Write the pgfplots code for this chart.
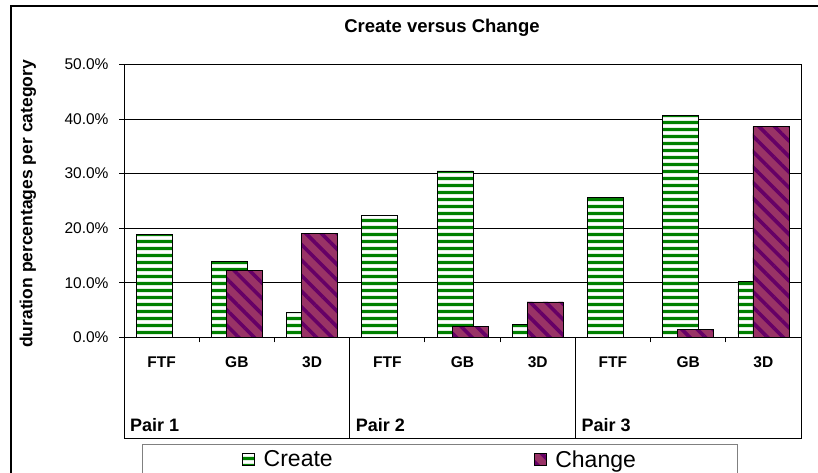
\documentclass[border=0pt]{standalone}
\usepackage{fontspec}
\setmainfont{Liberation Sans}
\usepackage{pgfplots}
\pgfplotsset{compat=1.18}
\usetikzlibrary{patterns.meta}
\definecolor{cgreen}{HTML}{008000}
\definecolor{plum}{HTML}{993366}
\definecolor{dplum}{HTML}{660066}
\pgfplotsset{sqleg/.style={legend image code/.code={\draw[##1] (0pt,-6pt) rectangle (12pt,6pt);}}}
\begin{document}
\begin{tikzpicture}[x=1pt,y=1pt]
\useasboundingbox (0,0) rectangle (818,472);
\draw[line width=1.2pt] (11,466) rectangle (840,-20);
\begin{axis}[
  at={(124pt,134.7pt)}, anchor=south west,
  scale only axis, width=677pt, height=272.8pt,
  xmin=-0.5, xmax=8.5, ymin=0, ymax=50,
  clip=false,
  ybar, sqleg,
  axis line style={line width=1pt, black},
  ymajorgrids, major grid style={black, line width=0.6pt},
  ytick={0,10,...,50},
  yticklabel={\pgfmathprintnumber[fixed,fixed zerofill,precision=1]{\tick}\%},
  /pgf/number format/assume math mode=true,
  yticklabel style={font=\fontsize{15.5}{18}\selectfont, xshift=-7pt},
  xtick={0.5,1.5,...,7.5}, xticklabels={},
  tick align=outside, major tick length=5pt,
  tick style={black, line width=0.8pt},
  xtick pos=bottom, ytick pos=left,
  ylabel={\bfseries duration percentages per category},
  ylabel style={font=\fontsize{17.5}{20}\selectfont, at={(axis description cs:-0.1418,0.489)}, anchor=center},
  title={\bfseries Create versus Change},
  title style={font=\fontsize{18.5}{21}\selectfont, at={(axis description cs:0.4697,1.0935)}, anchor=base},
  bar width=36pt,
  legend columns=2,
  legend style={at={(axis description cs:0.4668,-0.391)}, anchor=north, draw=gray, line width=1pt,
    font=\fontsize{23}{26}\selectfont, inner xsep=100pt, inner ysep=4pt,
    /tikz/every even column/.append style={column sep=199pt}},
]
\addplot[bar shift=-7.5pt, fill=white, draw=black, line width=0.6pt,
  postaction={pattern={Lines[angle=0,distance=7.4pt,line width=3.4pt]}, pattern color=cgreen}]
  coordinates {(0,18.9) (1,14.0) (2,4.6) (3,22.4) (4,30.5) (5,2.3) (6,25.6) (7,40.7) (8,10.2)};
\addplot[bar shift=7.5pt, fill=plum, draw=black, line width=0.6pt,
  postaction={pattern={Lines[angle=-45,distance=11pt,line width=3.6pt]}, pattern color=dplum}]
  coordinates {(1,12.2) (2,19.1) (4,2.0) (5,6.5) (7,1.5) (8,38.6)};
\legend{\hspace{7pt}Create,\hspace{7pt}Change}
% category boxes
\draw[black, line width=1pt] (axis cs:-0.5,0) -- ([yshift=-100.7pt]axis cs:-0.5,0) -- ([yshift=-100.7pt]axis cs:8.5,0) -- (axis cs:8.5,0);
\draw[black, line width=1pt] (axis cs:2.5,0) -- ([yshift=-100.7pt]axis cs:2.5,0);
\draw[black, line width=1pt] (axis cs:5.5,0) -- ([yshift=-100.7pt]axis cs:5.5,0);
\tikzset{cat/.style={anchor=base, inner sep=0pt, font=\fontsize{15.5}{18}\selectfont\bfseries},
  pair/.style={anchor=base west, inner sep=0pt, font=\fontsize{18}{20}\selectfont\bfseries}}
\node[cat] at ([yshift=-30pt]axis cs:0,0) {FTF};
\node[cat] at ([yshift=-30pt]axis cs:1,0) {GB};
\node[cat] at ([yshift=-30pt]axis cs:2,0) {3D};
\node[cat] at ([yshift=-30pt]axis cs:3,0) {FTF};
\node[cat] at ([yshift=-30pt]axis cs:4,0) {GB};
\node[cat] at ([yshift=-30pt]axis cs:5,0) {3D};
\node[cat] at ([yshift=-30pt]axis cs:6,0) {FTF};
\node[cat] at ([yshift=-30pt]axis cs:7,0) {GB};
\node[cat] at ([yshift=-30pt]axis cs:8,0) {3D};
\node[pair] at ([xshift=6pt,yshift=-94.4pt]axis cs:-0.5,0) {Pair 1};
\node[pair] at ([xshift=6pt,yshift=-94.4pt]axis cs:2.5,0) {Pair 2};
\node[pair] at ([xshift=6pt,yshift=-94.4pt]axis cs:5.5,0) {Pair 3};
\end{axis}
\end{tikzpicture}
\end{document}
